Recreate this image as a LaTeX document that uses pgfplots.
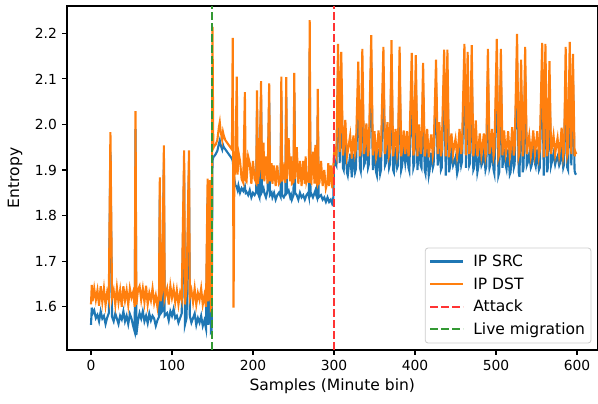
\documentclass[border=0pt]{standalone}
\usepackage{fontspec}
\setmainfont{DejaVu Sans}
\usepackage{pgfplots}
\usepackage{pgfplotstable}
\pgfplotsset{compat=1.18}
\definecolor{tabblue}{HTML}{1F77B4}
\definecolor{taborange}{HTML}{FF7F0E}
\definecolor{attackred}{HTML}{FF3333}
\definecolor{livegreen}{HTML}{339933}

\pgfplotstableread{
x src dst
0 1.560 1.605
1 1.598 1.648
2 1.585 1.612
4 1.592 1.640
6 1.575 1.615
8 1.582 1.636
10 1.568 1.602
12 1.590 1.645
14 1.574 1.610
16 1.580 1.640
18 1.562 1.604
20 1.576 1.632
22 1.586 1.615
24 1.940 1.983
26 1.578 1.620
28 1.568 1.636
30 1.585 1.605
32 1.574 1.642
34 1.562 1.610
36 1.580 1.636
38 1.572 1.600
40 1.590 1.645
42 1.568 1.614
44 1.580 1.636
46 1.562 1.604
48 1.584 1.640
50 1.574 1.620
52 1.558 1.632
54 1.545 1.600
55 1.990 2.029
56 1.538 1.604
58 1.568 1.636
60 1.586 1.645
62 1.574 1.615
64 1.590 1.640
66 1.568 1.610
68 1.580 1.646
70 1.564 1.605
72 1.585 1.630
74 1.570 1.614
76 1.580 1.640
78 1.574 1.608
80 1.558 1.625
82 1.570 1.600
84 1.578 1.630
85 1.845 1.884
86 1.585 1.612
88 1.590 1.635
90 1.917 1.954
91 1.580 1.618
94 1.586 1.640
96 1.570 1.605
98 1.590 1.646
100 1.580 1.620
102 1.595 1.640
104 1.575 1.610
106 1.580 1.636
108 1.565 1.605
110 1.575 1.630
112 1.585 1.615
115 1.900 1.943
116 1.560 1.605
118 1.575 1.640
121 1.900 1.943
122 1.580 1.620
124 1.565 1.636
126 1.575 1.610
128 1.585 1.640
130 1.560 1.605
132 1.575 1.630
134 1.565 1.615
136 1.580 1.640
138 1.558 1.605
140 1.570 1.625
142 1.552 1.600
144 1.840 1.881
145 1.560 1.612
147 1.844 1.878
148 1.545 1.596
149 1.548 1.600
150 1.920 2.214
151 1.928 1.948
152 1.930 1.952
154 1.935 1.956
156 1.942 1.966
158 1.958 1.995
159 1.965 2.005
160 1.955 1.986
162 1.945 1.966
163 1.955 1.983
164 1.950 1.975
166 1.945 1.965
168 1.940 1.960
170 1.935 1.955
172 1.930 1.950
174 1.925 1.945
175 1.920 2.190
176 1.900 1.598
177 1.880 1.900
178 1.868 1.890
180 1.862 2.105
181 1.856 1.890
182 1.866 1.940
184 1.850 1.920
186 1.860 1.880
188 1.854 1.872
190 1.864 2.071
191 1.850 1.878
192 1.852 1.875
194 1.845 1.930
196 1.856 1.915
198 1.840 1.870
200 1.850 1.920
202 1.845 1.880
204 1.852 1.872
205 2.030 2.075
206 1.850 1.870
208 1.840 1.900
210 2.055 2.095
211 1.852 1.880
213 1.860 1.960
214 1.850 1.875
216 1.840 1.930
218 1.855 1.870
220 2.050 2.090
221 1.845 1.875
223 1.850 1.915
224 1.840 1.870
226 1.850 1.910
228 1.835 1.865
230 1.845 1.910
232 1.850 1.870
234 1.842 1.876
235 2.060 2.105
236 1.845 1.875
238 1.840 1.900
240 1.848 1.872
241 2.060 2.104
242 1.850 1.880
244 1.855 1.970
246 1.840 1.875
247 1.845 1.930
248 1.835 1.870
250 1.845 1.874
251 2.070 2.113
252 1.850 1.880
254 1.845 1.950
256 1.835 1.870
258 1.850 1.920
260 1.840 1.865
262 1.845 1.920
264 1.835 1.870
265 1.840 1.930
266 1.845 1.875
268 1.850 1.890
269 1.842 1.872
270 2.160 2.229
271 1.845 1.875
272 1.848 1.872
274 1.840 1.940
276 1.850 1.870
277 1.855 1.955
278 1.845 1.875
279 1.840 1.870
280 2.020 2.078
281 1.840 1.870
282 1.842 1.872
284 1.845 1.920
286 1.835 1.865
288 1.840 1.900
290 1.830 1.860
292 1.840 1.875
293 1.835 1.915
294 1.830 1.865
296 1.835 1.910
298 1.825 1.860
299 1.828 1.900
300 1.912 1.935
301 1.918 1.945
303 1.910 1.930
305 2.117 2.177
307 1.915 1.940
309 2.099 2.159
311 1.905 1.932
312 1.900 1.945
314 1.970 2.010
316 1.895 1.930
317 1.888 1.940
320 1.936 1.976
322 1.884 1.925
324 1.936 1.976
326 1.895 1.935
327 1.902 1.945
330 2.078 2.138
332 1.905 1.930
333 1.898 1.942
335 2.106 2.166
337 1.910 1.935
338 1.915 1.950
340 1.962 2.002
342 1.905 1.930
343 1.912 1.945
346 2.136 2.196
348 1.900 1.932
350 1.945 1.985
352 1.895 1.930
353 1.888 1.940
355 1.947 1.987
357 1.892 1.928
358 1.900 1.945
361 2.110 2.170
363 1.910 1.935
364 1.915 1.950
366 1.965 2.005
368 1.905 1.932
369 1.912 1.940
371 2.125 2.185
373 1.900 1.930
374 1.895 1.945
376 1.950 1.990
378 1.905 1.935
379 1.910 1.948
381 2.111 2.171
383 1.900 1.930
384 1.908 1.942
386 1.947 1.987
388 1.915 1.935
390 1.945 1.985
392 1.905 1.930
393 1.898 1.945
396 2.097 2.157
398 1.905 1.932
399 1.912 1.942
401 2.092 2.152
403 1.900 1.930
405 1.960 2.000
407 1.910 1.935
408 1.905 1.948
410 2.075 2.135
412 1.900 1.930
413 1.892 1.940
415 1.950 1.990
417 1.888 1.928
418 1.898 1.945
420 1.938 1.978
422 1.905 1.932
423 1.912 1.945
426 2.082 2.142
428 1.910 1.935
430 1.965 2.005
432 1.900 1.930
433 1.905 1.942
436 2.104 2.164
438 1.888 1.930
440 2.104 2.164
442 1.895 1.928
443 1.905 1.945
445 1.940 1.980
447 1.910 1.935
448 1.915 1.948
450 1.928 1.968
452 1.892 1.930
453 1.900 1.942
455 1.950 1.990
457 1.910 1.935
458 1.918 1.950
461 2.117 2.177
463 1.905 1.932
465 2.099 2.159
467 1.910 1.935
468 1.915 1.948
470 2.114 2.174
472 1.900 1.930
473 1.905 1.945
475 1.969 2.009
477 1.895 1.930
478 1.905 1.942
480 1.940 1.980
482 1.910 1.932
483 1.915 1.945
485 1.940 1.980
487 1.900 1.930
488 1.908 1.942
490 2.106 2.166
492 1.905 1.935
493 1.912 1.948
495 1.950 1.990
497 1.900 1.930
498 1.892 1.940
501 2.128 2.188
503 1.888 1.928
504 1.895 1.935
506 2.106 2.166
508 1.905 1.932
510 1.947 1.987
512 1.910 1.935
513 1.902 1.945
515 1.945 1.985
517 1.890 1.928
518 1.895 1.940
520 1.954 1.994
522 1.905 1.932
523 1.912 1.945
526 2.139 2.199
528 1.895 1.930
529 1.885 1.938
531 2.082 2.142
533 1.895 1.930
534 1.905 1.945
536 2.110 2.170
538 1.910 1.935
539 1.915 1.950
541 1.935 1.975
543 1.905 1.932
544 1.910 1.945
546 1.947 1.987
548 1.915 1.935
549 1.908 1.948
551 1.945 1.985
553 1.900 1.930
554 1.905 1.942
557 2.119 2.179
559 1.888 1.928
561 2.117 2.177
563 1.895 1.930
564 1.905 1.945
566 2.079 2.139
568 1.910 1.935
569 1.918 1.950
571 1.936 1.976
573 1.912 1.935
574 1.920 1.948
576 1.930 1.970
578 1.910 1.932
579 1.915 1.945
581 1.953 1.993
583 1.905 1.930
584 1.912 1.942
586 2.110 2.170
588 1.905 1.932
589 1.900 1.940
591 2.121 2.181
593 1.910 1.935
595 2.095 2.155
597 1.898 1.930
598 1.892 1.940
599 1.890 1.935
}\datatable

\begin{document}
\begin{tikzpicture}
\begin{axis}[
  scale only axis,
  width=530.5bp, height=344bp,
  xmin=-29.6, xmax=625.3,
  ymin=1.505, ymax=2.26,
  xtick={0,100,200,300,400,500,600},
  ytick={1.6,1.7,1.8,1.9,2.0,2.1,2.2},
  tick align=outside,
  tick pos=left,
  major tick length=4.9bp,
  axis line style={line width=1.1bp},
  every tick/.style={black, line width=1.1bp},
  tick label style={font=\fontsize{13.9}{16}\selectfont},
  xticklabel style={anchor=north, inner sep=0pt, yshift=-5bp},
  yticklabel style={anchor=east, inner sep=0pt, xshift=-5bp,
     /pgf/number format/fixed, /pgf/number format/fixed zerofill, /pgf/number format/precision=1},
  /pgf/number format/assume math mode=true,
  xlabel={Samples (Minute bin)},
  ylabel={Entropy},
  xlabel style={font=\fontsize{15.6}{18}\selectfont, at={(axis description cs:0.5,-0.1047)}, anchor=center},
  ylabel style={font=\fontsize{15.6}{18}\selectfont, at={(axis description cs:-0.098,0.5)}, anchor=center},
  legend cell align=left,
  legend image code/.code={\draw[#1] (0bp,0bp) -- (33bp,0bp);},
  legend style={at={(0.9885,0.019)}, anchor=south east, draw=black!20, rounded corners=3bp,
     line width=0.8bp, fill=white, font=\fontsize{15.6}{18}\selectfont,
     inner xsep=4bp, inner ysep=5bp, row sep=5.5bp,
     /tikz/every odd column/.append style={column sep=7bp}},
]
\addplot[tabblue, line width=2.1bp] table[x=x, y=src] {\datatable};
\addlegendentry{IP SRC}
\addplot[taborange, line width=2.1bp] table[x=x, y=dst] {\datatable};
\addlegendentry{IP DST}
\addplot[attackred, line width=2bp, dash pattern=on 7.7bp off 3.3bp] coordinates {(300,1.505) (300,2.26)};
\addlegendentry{Attack}
\addplot[livegreen, line width=2bp, dash pattern=on 7.7bp off 3.3bp] coordinates {(149.5,1.505) (149.5,2.26)};
\addlegendentry{Live migration}
\end{axis}
\pgfresetboundingbox
\path ([xshift=-67bp,yshift=-54bp]current axis.south west) rectangle ([xshift=0.5bp,yshift=6bp]current axis.north east);
\end{tikzpicture}
\end{document}
